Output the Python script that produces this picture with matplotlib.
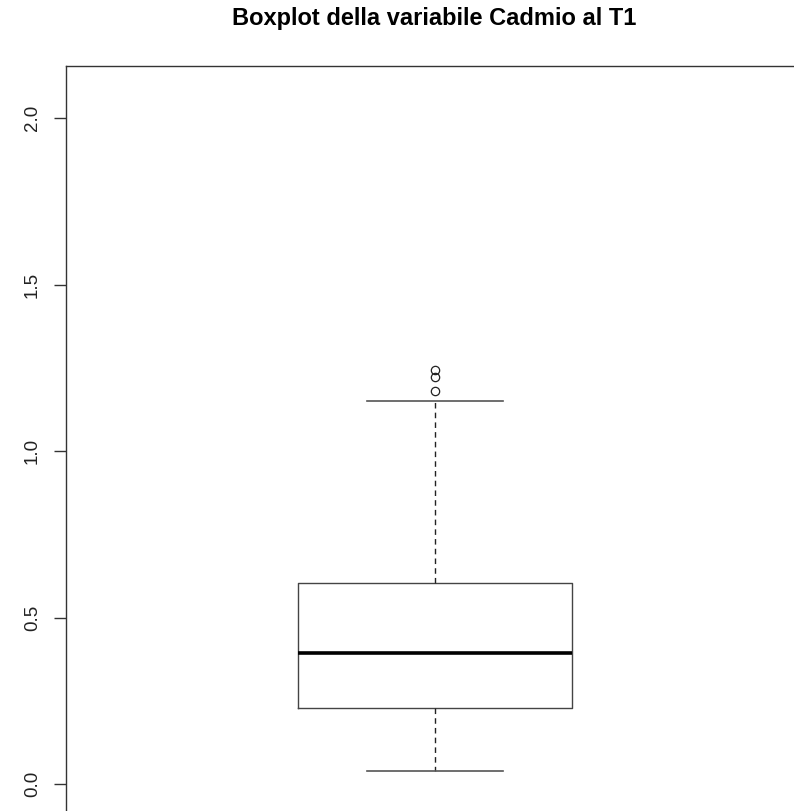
import matplotlib
matplotlib.use('Agg')
import matplotlib.pyplot as plt

# summary statistics
q1 = 0.228
median = 0.393
q3 = 0.604
whisker_low = 0.039
whisker_high = 1.150
outliers = [1.180, 1.222, 1.243]
yticks = [0.0, 0.5, 1.0, 1.5, 2.0]
title = 'Boxplot della variabile Cadmio al T1'

W, H = 794, 811
fig = plt.figure(figsize=(W / 100, H / 100), dpi=100)
plt.rcParams['font.family'] = ['Liberation Sans', 'DejaVu Sans']

# plot region runs past the right and bottom edges of the picture
left, right, top, bottom = 66, 804, 66, 830
ax = fig.add_axes([left / W, 1 - bottom / H, (right - left) / W, (bottom - top) / H])
ax.set_xlim(0.46, 1.54)
ax.set_ylim((784 - bottom) / 333, (784 - top) / 333)

stats = [dict(med=median, q1=q1, q3=q3, whislo=whisker_low, whishi=whisker_high,
              fliers=outliers, label='')]
ax.bxp(stats, positions=[1], widths=0.4, showfliers=True,
       boxprops=dict(color='#444444', linewidth=1.0),
       medianprops=dict(color='black', linewidth=2.6),
       whiskerprops=dict(color='#222222', linewidth=1.0, linestyle=(0, (4, 3))),
       capprops=dict(color='#555555', linewidth=1.2),
       capwidths=0.2,
       flierprops=dict(marker='o', markersize=6, markerfacecolor='none',
                       markeredgecolor='#222222', markeredgewidth=0.9))

for s in ax.spines.values():
    s.set_color('#333333')
    s.set_linewidth(1.0)
ax.set_xticks([])
ax.set_yticks(yticks)
ax.set_yticklabels(['0.0', '0.5', '1.0', '1.5', '2.0'], rotation=90, va='center',
                   fontsize=13.5, color='#222222')
ax.tick_params(axis='y', length=9, width=1, color='#333333', pad=9)

fig.text(434 / W, 1 - 18 / H, title, ha='center', va='center',
         fontsize=17, fontweight='bold')

fig.savefig('out.png', dpi=100)
